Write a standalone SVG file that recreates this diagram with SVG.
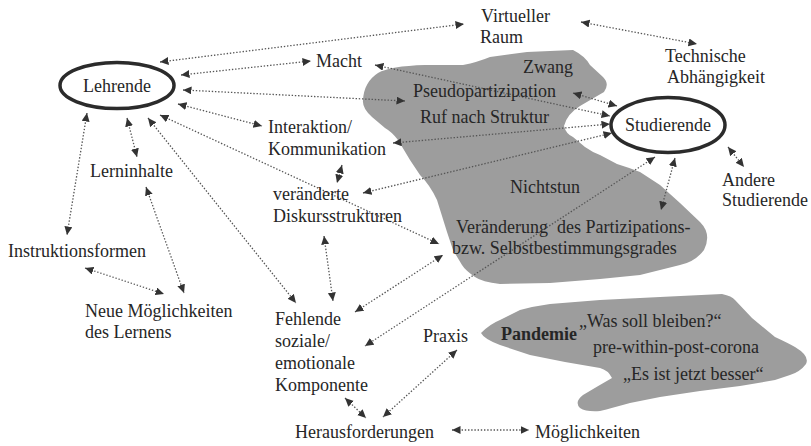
<svg xmlns="http://www.w3.org/2000/svg" width="811" height="446" viewBox="0 0 811 446">
<defs>
<style>
text{font-family:"Liberation Serif","Tinos","Times New Roman","Nimbus Roman","Nimbus Roman No9 L","FreeSerif","DejaVu Serif","Noto Serif",serif;font-size:18px;fill:#262626}
.b{font-weight:bold}
.blob{fill:#9d9d9d;stroke:none}
.ell{fill:none;stroke:#2b2b2b;stroke-width:3.5}
.c{fill:none;stroke:#555;stroke-width:1.3;stroke-dasharray:1.4 1.8;marker-start:url(#ah);marker-end:url(#ah)}
</style>
<marker id="ah" markerUnits="userSpaceOnUse" markerWidth="10" markerHeight="9" refX="8.5" refY="4" orient="auto-start-reverse">
<path d="M0,0 L8.5,4 L0,8 z" fill="#333"/>
</marker>
</defs>
<rect width="811" height="446" fill="#fff"/>
<g id="blob-main">
<path class="blob" d="M378,73 Q390,66 425,65 L463,65 Q478,62 490,57 L527,52 L573,50 Q585,56 590,65 L603,77 Q610,84 604,92 L580,106 Q567,114 564,126 Q566,134 573,137 L585,147 Q592,152 600,155 L617,164 Q630,168 640,172 L660,185 L680,203 L700,222 Q712,234 704,250 Q695,262 680,265 L640,275 L600,279 L550,283 L500,284 Q482,282 475,277 Q465,270 462,265 L453,250 L447,232 L437,200 Q430,185 420,175 L410,160 L398,140 Q392,132 385,128 L372,117 Q362,108 363,100 Q364,82 378,73 z"/>
</g>
<g id="blob-pandemie">
<path class="blob" d="M481,333 Q490,324 500,320 L520,310 Q535,306 550,304 L600,300 L660,297 L722,294 Q732,296 735,300 L752,318 L775,337 Q788,343 795,347 Q810,356 806,364 Q800,372 790,375 L775,380 L740,386 L700,391 L660,397 L630,403 Q612,408 600,411 Q586,412 580,408 Q574,402 583,395 Q598,386 612,378 Q608,370 600,368 L565,362 L530,355 L500,345 Q484,339 481,333 z"/>
</g>
<g id="connectors">
<line class="c" x1="160" y1="62" x2="464" y2="24"/>
<line class="c" x1="181" y1="75" x2="311" y2="61"/>
<line class="c" x1="183" y1="90" x2="405" y2="101"/>
<line class="c" x1="178" y1="104" x2="262" y2="126"/>
<line class="c" x1="160" y1="115" x2="439" y2="244"/>
<line class="c" x1="148" y1="118" x2="296" y2="303"/>
<line class="c" x1="127" y1="118" x2="137" y2="157"/>
<line class="c" x1="87" y1="113" x2="67" y2="235"/>
<line class="c" x1="146" y1="187" x2="184" y2="293"/>
<line class="c" x1="85" y1="268" x2="164" y2="294"/>
<line class="c" x1="581" y1="22" x2="697" y2="44"/>
<line class="c" x1="375" y1="65" x2="610" y2="116"/>
<line class="c" x1="573" y1="93" x2="617" y2="106"/>
<line class="c" x1="393" y1="143" x2="610" y2="124"/>
<line class="c" x1="363" y1="193" x2="612" y2="133"/>
<line class="c" x1="675" y1="158" x2="661" y2="210"/>
<line class="c" x1="655" y1="157" x2="365" y2="346"/>
<line class="c" x1="728" y1="147" x2="744" y2="167"/>
<line class="c" x1="342" y1="165" x2="337" y2="183"/>
<line class="c" x1="324" y1="236" x2="333" y2="301"/>
<line class="c" x1="355" y1="312" x2="443" y2="255"/>
<line class="c" x1="345" y1="398" x2="366" y2="418"/>
<line class="c" x1="457" y1="350" x2="383" y2="417"/>
<line class="c" x1="452" y1="430" x2="529" y2="430"/>
</g>
<g id="lehrende"><ellipse class="ell" cx="117" cy="85.5" rx="57" ry="23"/><text x="117" y="92" text-anchor="middle">Lehrende</text></g>
<g id="studierende"><ellipse class="ell" cx="668" cy="125" rx="57" ry="27.5"/><text x="668" y="131" text-anchor="middle">Studierende</text></g>
<g id="virtueller-raum"><text x="481" y="22">Virtueller</text><text x="480" y="43">Raum</text></g>
<g id="technische-abhaengigkeit"><text x="665" y="62">Technische</text><text x="667" y="83">Abhängigkeit</text></g>
<g id="macht"><text x="316" y="67">Macht</text></g>
<g id="zwang"><text x="523" y="73">Zwang</text></g>
<g id="pseudopartizipation"><text x="413" y="97">Pseudopartizipation</text></g>
<g id="ruf-nach-struktur"><text x="420" y="123">Ruf nach Struktur</text></g>
<g id="interaktion"><text x="268" y="133">Interaktion/</text><text x="268" y="155">Kommunikation</text></g>
<g id="lerninhalte"><text x="90" y="177">Lerninhalte</text></g>
<g id="veraenderte-diskursstrukturen"><text x="273" y="200">veränderte</text><text x="273" y="222">Diskursstrukturen</text></g>
<g id="nichtstun"><text x="510" y="193">Nichtstun</text></g>
<g id="andere-studierende"><text x="722" y="186">Andere</text><text x="722" y="206">Studierende</text></g>
<g id="veraenderung"><text x="456" y="233" xml:space="preserve">Veränderung  des Partizipations-</text><text x="452" y="254">bzw. Selbstbestimmungsgrades</text></g>
<g id="instruktionsformen"><text x="8" y="257">Instruktionsformen</text></g>
<g id="neue-moeglichkeiten"><text x="85" y="317">Neue Möglichkeiten</text><text x="85" y="338">des Lernens</text></g>
<g id="fehlende-komponente"><text x="275" y="325">Fehlende</text><text x="275" y="347">soziale/</text><text x="275" y="369">emotionale</text><text x="275" y="391">Komponente</text></g>
<g id="praxis"><text x="423" y="342">Praxis</text></g>
<g id="pandemie"><text class="b" x="501" y="340">Pandemie</text><text x="579" y="327">„Was soll bleiben?“</text><text x="593" y="353">pre-within-post-corona</text><text x="623" y="380">„Es ist jetzt besser“</text></g>
<g id="herausforderungen"><text x="295" y="438">Herausforderungen</text></g>
<g id="moeglichkeiten"><text x="535" y="438">Möglichkeiten</text></g>
</svg>
